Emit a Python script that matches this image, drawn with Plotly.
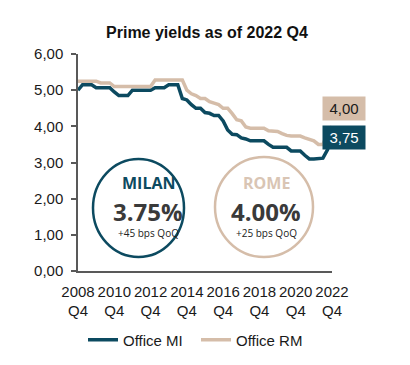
import plotly.graph_objects as go

# ---- data (quarterly, 2008 Q4 .. 2022 Q4) ----
quarters = [f"{y} Q{q}" for y in range(2008, 2023) for q in range(1, 5)][3:]
office_mi = [5.00, 5.15, 5.15, 5.15, 5.07, 5.07, 5.07, 5.07, 4.95, 4.85,
             4.85, 4.85, 5.00, 5.00, 5.00, 5.00, 5.00, 5.07, 5.07, 5.07,
             5.15, 5.15, 5.15, 4.77, 4.73, 4.60, 4.50, 4.50, 4.38, 4.36,
             4.30, 4.30, 4.15, 3.90, 3.78, 3.77, 3.68, 3.65, 3.60, 3.60,
             3.60, 3.60, 3.50, 3.42, 3.42, 3.42, 3.42, 3.32, 3.32, 3.32,
             3.20, 3.10, 3.10, 3.10, 3.12, 3.35, 3.75]
office_rm = [5.25, 5.25, 5.25, 5.25, 5.25, 5.20, 5.20, 5.20, 5.10, 5.10,
             5.10, 5.10, 5.10, 5.10, 5.10, 5.10, 5.10, 5.28, 5.28, 5.28,
             5.28, 5.28, 5.28, 5.28, 5.00, 4.90, 4.85, 4.77, 4.77, 4.68,
             4.64, 4.60, 4.50, 4.50, 4.35, 4.18, 4.15, 3.98, 3.95, 3.95,
             3.95, 3.95, 3.88, 3.86, 3.86, 3.80, 3.75, 3.73, 3.73, 3.73,
             3.68, 3.64, 3.60, 3.50, 3.50, 3.80, 4.00]
series_names = ["Office MI", "Office RM"]
x_tick_years = [2008, 2010, 2012, 2014, 2016, 2018, 2020, 2022]
y_ticks = [0, 1, 2, 3, 4, 5, 6]
kpi_city = ["MILAN", "ROME"]
kpi_value = ["3.75%", "4.00%"]
kpi_delta = ["+45 bps QoQ", "+25 bps QoQ"]

TEAL = "#0C4A60"
BEIGE = "#D5BDA9"
FONT = "Liberation Sans, Arial, sans-serif"

x_idx = list(range(len(quarters)))
tickvals = [quarters.index(f"{y} Q4") for y in x_tick_years]
ticktext = [f"{y}<br>Q4" for y in x_tick_years]

fig = go.Figure()
fig.add_trace(go.Scatter(x=x_idx, y=office_mi, mode="lines", name=series_names[0],
                         line=dict(color=TEAL, width=3.5)))
fig.add_trace(go.Scatter(x=x_idx, y=office_rm, mode="lines", name=series_names[1],
                         line=dict(color=BEIGE, width=3.5)))

# page offset (default body margin) and plot area in target pixels
OFF = 8
L, R, T, B = 78, 332, 54, 271
W, H = 410, 365


def px(x):
    return (x - L) / (R - L)


def py(y):
    return (B - y) / (B - T)


shapes = [
    dict(type="circle", xref="paper", yref="paper", x0=px(93), x1=px(184), y0=py(257), y1=py(159),
         line=dict(color=TEAL, width=2.5)),
    dict(type="circle", xref="paper", yref="paper", x0=px(215), x1=px(313), y0=py(257), y1=py(157),
         line=dict(color=BEIGE, width=2.5)),
]

KFONT = "Open Sans, Noto Sans, sans-serif"
annotations = []


def ann(x, y, text, **kw):
    d = dict(xref="paper", yref="paper", x=px(x), y=py(y), text=text, showarrow=False,
             xanchor="center", yanchor="middle")
    d.update(kw)
    annotations.append(d)


for cx, col, city, val, dlt in [(148, TEAL, kpi_city[0], kpi_value[0], kpi_delta[0]),
                                (266, "#D9C5B4", kpi_city[1], kpi_value[1], kpi_delta[1])]:
    ann(cx, 183, f"<b>{city}</b>", height=16, font=dict(family=KFONT, size=16, color=col))
    ann(cx, 211, f"<b>{val}</b>", height=24, font=dict(family=KFONT, size=24, color="#3A3A3A"))
    ann(cx, 233, dlt, height=12, font=dict(family=KFONT, size=10, color="#222222"))


def fmt(v):
    return f"{v:.2f}".replace(".", ",")


ann(344, 108, fmt(office_rm[-1]), width=40, height=21, bgcolor=BEIGE,
    font=dict(family=FONT, size=15, color="#1A1A1A"))
ann(344, 137, fmt(office_mi[-1]), width=40, height=21, bgcolor=TEAL,
    font=dict(family=FONT, size=15, color="white"))

fig.update_layout(
    width=W, height=H,
    margin=dict(l=L - OFF, r=W - (R - OFF), t=T - OFF, b=H - (B - OFF), pad=0, autoexpand=False),
    paper_bgcolor="white", plot_bgcolor="white",
    font=dict(family=FONT, size=15, color="#1A1A1A"),
    title=dict(text="<b>Prime yields as of 2022 Q4</b>", x=(207 - OFF) / W, xanchor="center",
               y=1 - (32 - OFF) / H, yanchor="middle", font=dict(family=FONT, size=16, color="#111111")),
    xaxis=dict(range=[0, len(quarters) - 1], tickvals=tickvals, ticktext=ticktext,
               showgrid=False, zeroline=False, showline=True, linecolor="#595959", linewidth=1.5,
               ticks="", tickfont=dict(size=15), ticklabelstandoff=6),
    yaxis=dict(range=[0, 6], tickvals=y_ticks, ticktext=[fmt(v) for v in y_ticks],
               showgrid=False, zeroline=False, showline=True, linecolor="#595959", linewidth=1.5,
               ticks="outside", ticklen=5, tickcolor="#595959", tickwidth=1.5,
               tickfont=dict(size=15), ticklabelstandoff=5),
    legend=dict(orientation="h", x=px(196), xanchor="center", y=py(340), yanchor="middle",
                entrywidth=68, font=dict(size=15), bgcolor="rgba(0,0,0,0)"),
    shapes=shapes,
    annotations=annotations,
)

fig.write_html("out.html")
